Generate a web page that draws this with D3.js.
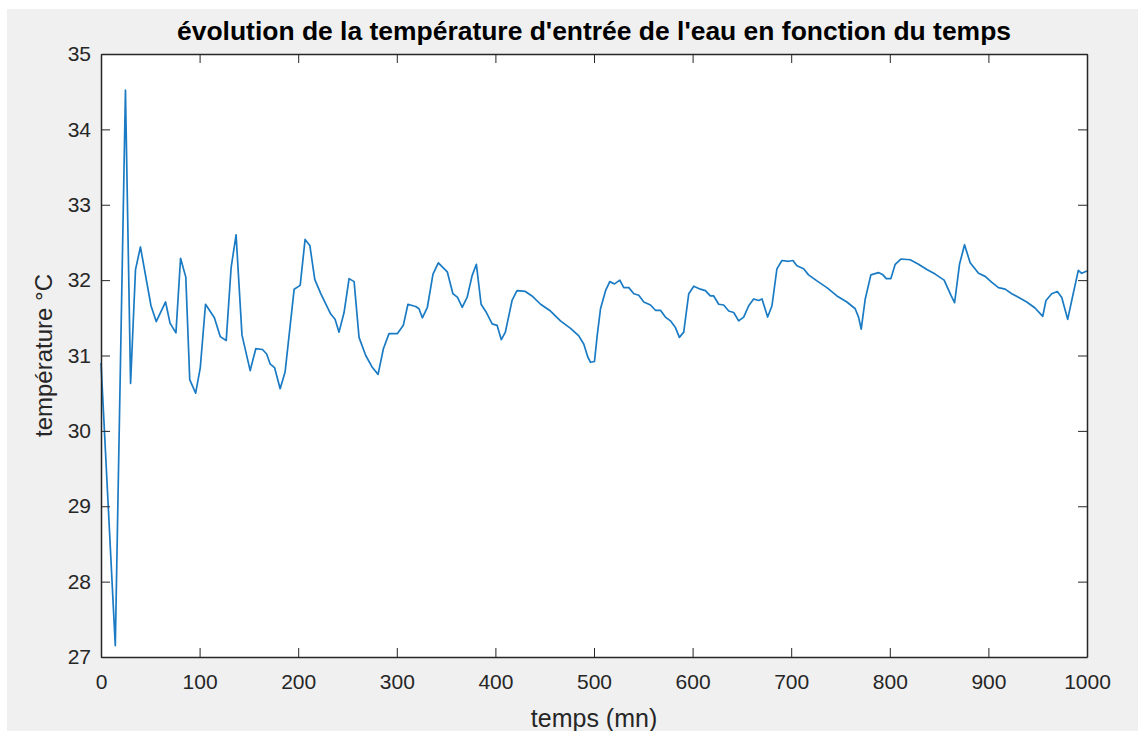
<!DOCTYPE html>
<html>
<head>
<meta charset="utf-8">
<script src="https://cdn.jsdelivr.net/npm/d3@7"></script>
<style>
  body { margin: 0; background: #fff; }
  svg { display: block; }
  text { font-family: "Liberation Sans", Arial, Helvetica, sans-serif; fill: #262626; }
</style>
</head>
<body>
<script>
// temps (mn) / température (°C)
const times = [0, 14.5, 24.8, 30, 35, 40, 50.7, 56, 65.5, 70, 76, 80.7, 86, 90, 96, 100.7, 106, 115, 121, 127,
  132, 137, 143, 151.3, 157, 163.8, 168, 171.5, 176, 181.7, 186.7, 195.9, 202, 207, 211.8, 216.8, 222.9, 233, 237.4, 241.4,
  246.5, 251.6, 256.7, 261.7, 268.5, 275.3, 281, 286.4, 292.1, 300.5, 306.6, 311.3, 319.1, 322.5, 325.9, 331, 336.7, 342.1, 351.2, 356.9,
  361.6, 366.3, 371.3, 376.4, 380.7, 385.5, 390.9, 396.7, 401.7, 406, 410.1, 416.9, 421.9, 430.4, 437.1, 445.8, 455.9, 466, 476.2, 484.6,
  489.7, 493.7, 496.5, 500.5, 503.2, 506.6, 511.7, 516, 520.8, 526.2, 530.2, 535.3, 540.4, 545.4, 550.5, 557.3, 562.3, 567.4, 572.4, 577.5,
  582.6, 586.6, 591, 596.1, 601.2, 607.9, 613, 618, 621.4, 626.5, 631.5, 636.6, 641.7, 646.7, 651.8, 656.9, 661.9, 667, 670.4, 676.1,
  680.5, 685.5, 690.6, 697.3, 701.8, 705.8, 712.6, 717.6, 726.1, 736.2, 746.4, 756.5, 764.9, 768.3, 771, 775.1, 780.8, 788.5, 793, 796.4,
  801.1, 805.5, 811.2, 820.7, 829.1, 837.6, 846, 855.1, 858.5, 862.3, 865.7, 870.7, 875.8, 881.5, 890, 896.7, 903.5, 910.2, 917, 923.7,
  932.2, 938.9, 947.3, 955.1, 958.4, 964.2, 969.9, 974.4, 980.4, 985.5, 991.2, 994.6, 1000];
const temps = [30.9, 27.15, 34.52, 30.63, 32.14, 32.44, 31.66, 31.45, 31.71, 31.43, 31.3, 32.29, 32.04, 30.68, 30.5, 30.84, 31.68, 31.5, 31.25, 31.2,
  32.17, 32.6, 31.27, 30.8, 31.09, 31.08, 31.02, 30.89, 30.84, 30.56, 30.78, 31.88, 31.93, 32.54, 32.46, 32.01, 31.82, 31.55, 31.48, 31.31,
  31.57, 32.02, 31.98, 31.24, 31.0, 30.84, 30.75, 31.09, 31.29, 31.29, 31.4, 31.68, 31.65, 31.62, 31.5, 31.64, 32.08, 32.23, 32.11, 31.82,
  31.77, 31.64, 31.77, 32.06, 32.21, 31.68, 31.57, 31.42, 31.4, 31.21, 31.31, 31.73, 31.86, 31.85, 31.79, 31.68, 31.59, 31.46, 31.36, 31.26,
  31.15, 30.98, 30.91, 30.92, 31.26, 31.62, 31.86, 31.98, 31.95, 32.0, 31.9, 31.9, 31.82, 31.8, 31.71, 31.67, 31.6, 31.6, 31.51, 31.46,
  31.37, 31.24, 31.31, 31.82, 31.92, 31.88, 31.86, 31.79, 31.79, 31.68, 31.67, 31.59, 31.57, 31.46, 31.51, 31.66, 31.75, 31.73, 31.75, 31.51,
  31.66, 32.15, 32.26, 32.25, 32.26, 32.19, 32.15, 32.07, 31.99, 31.9, 31.79, 31.71, 31.62, 31.51, 31.35, 31.75, 32.07, 32.1, 32.07, 32.02,
  32.02, 32.21, 32.28, 32.27, 32.21, 32.14, 32.08, 32.0, 31.9, 31.79, 31.7, 32.21, 32.47, 32.23, 32.09, 32.05, 31.97, 31.9, 31.88, 31.82,
  31.76, 31.71, 31.63, 31.52, 31.73, 31.82, 31.85, 31.77, 31.48, 31.79, 32.13, 32.09, 32.12];
const xTicks = [0, 100, 200, 300, 400, 500, 600, 700, 800, 900, 1000];
const yTicks = [27, 28, 29, 30, 31, 32, 33, 34, 35];

const W = 1138, H = 731;
const margin = { top: 54, right: 51, bottom: 74, left: 101 };
const w = W - margin.left - margin.right;
const h = H - margin.top - margin.bottom;

const root = d3.select('body').
append('svg').
attr('width', W).
attr('height', H);

// figure background (white strip on top/left as in the screenshot)
root.append('rect').
attr('x', 7).
attr('y', 9).
attr('width', W - 7).
attr('height', H - 9).
attr('fill', '#f0f0f0');

const svg = root.append('g').
attr('transform', 'translate(' + margin.left + ',' + margin.top + ')');

const x = d3.scaleLinear().domain([0, 1000]).range([0, w]);
const y = d3.scaleLinear().domain([27, 35]).range([h, 0]);

svg.append('rect').
attr('width', w).
attr('height', h).
attr('fill', '#fff');

const series = times.map((t, i) => ({ t: t, v: temps[i] }));

svg.append('path').
datum(series).
attr('fill', 'none').
attr('stroke', '#1a7bc4').
attr('stroke-width', 1.7).
attr('stroke-linejoin', 'round').
attr('d', d3.line().x(d => x(d.t)).y(d => y(d.v)));

// axes, ticks pointing inward like matlab
const styleAxis = g => {
  g.select('.domain').attr('stroke', '#262626').attr('stroke-width', 1.5);
  g.selectAll('.tick line').attr('stroke', '#262626').attr('stroke-width', 1);
  g.selectAll('.tick text').style('font-size', '21px').attr('fill', '#262626');
};

svg.append('g').
attr('transform', 'translate(0,' + h + ')').
call(d3.axisBottom(x).tickValues(xTicks).tickFormat(d3.format('d')).tickSizeInner(-9).tickSizeOuter(0).tickPadding(17)).
call(styleAxis);

svg.append('g').
call(d3.axisTop(x).tickValues(xTicks).tickSizeInner(-9).tickSizeOuter(0).tickFormat('')).
call(styleAxis);

svg.append('g').
call(d3.axisLeft(y).tickValues(yTicks).tickFormat(d3.format('d')).tickSizeInner(-9).tickSizeOuter(0).tickPadding(10)).
call(styleAxis);

svg.append('g').
attr('transform', 'translate(' + w + ',0)').
call(d3.axisRight(y).tickValues(yTicks).tickSizeInner(-9).tickSizeOuter(0).tickFormat('')).
call(styleAxis);

// title and labels
root.append('text').
attr('x', margin.left + w / 2).
attr('y', 40).
attr('text-anchor', 'middle').
attr('textLength', 834).
attr('lengthAdjust', 'spacingAndGlyphs').
style('font-size', '25px').
style('font-weight', 'bold').
style('fill', '#000').
text("évolution de la température d'entrée de l'eau en fonction du temps");

root.append('text').
attr('x', margin.left + w / 2).
attr('y', 727).
attr('text-anchor', 'middle').
style('font-size', '25px').
text('temps (mn)');

root.append('text').
attr('transform', 'translate(52,' + (margin.top + h / 2) + ') rotate(-90)').
attr('text-anchor', 'middle').
style('font-size', '24px').
text('température °C');
</script>
</body>
</html>
